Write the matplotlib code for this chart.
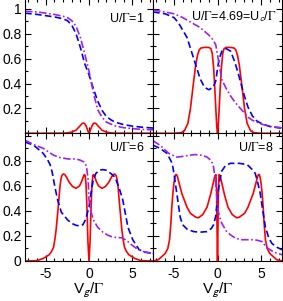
import matplotlib.pyplot as plt
from matplotlib.ticker import MultipleLocator, FixedLocator, FixedFormatter

plt.rcParams['font.family'] = ['Liberation Sans', 'DejaVu Sans']
plt.rcParams['mathtext.fontset'] = 'stix'
plt.rcParams['axes.unicode_minus'] = False

# U/Gamma = 1
v1_red = [-7.4, -3, -2.5, -2, -1.5, -1.1, -0.8, -0.65, -0.5, -0.35, -0.2, -0.08, 0,
          0.08, 0.2, 0.35, 0.5, 0.65, 0.8, 1.1, 1.5, 2, 2.5, 3, 7.4]
red1 = [0, 0.001, 0.004, 0.01, 0.025, 0.055, 0.078, 0.083, 0.078, 0.06, 0.035, 0.01, 0.0,
        0.01, 0.035, 0.06, 0.078, 0.083, 0.078, 0.055, 0.025, 0.01, 0.004, 0.001, 0]
v1 = [-7.4, -6, -5, -4, -3, -2.5, -2, -1.5, -1, -0.5, 0, 0.5, 1, 1.5, 2, 2.5, 3, 4, 5, 6, 7.4]
blue1 = [0.965, 0.955, 0.945, 0.935, 0.92, 0.905, 0.87, 0.80, 0.69, 0.56, 0.47, 0.36, 0.26,
         0.185, 0.135, 0.11, 0.09, 0.07, 0.058, 0.05, 0.042]
purple1 = [0.98, 0.975, 0.965, 0.955, 0.94, 0.93, 0.905, 0.86, 0.77, 0.64, 0.50, 0.33, 0.19,
           0.13, 0.09, 0.075, 0.06, 0.045, 0.038, 0.032, 0.028]

# U/Gamma = 4.69
v2_red = [-7.4, -5, -4.2, -3.8, -3.4, -3.1, -2.8, -2.5, -2.3, -2.1, -1.9, -1.5, -1.0, -0.75,
          -0.6, -0.45, -0.3, -0.18, -0.08, 0, 0.08, 0.18, 0.3, 0.45, 0.6, 0.75, 1.0, 1.5,
          1.9, 2.1, 2.3, 2.5, 2.8, 3.1, 3.4, 3.8, 4.2, 5, 7.4]
red2 = [0, 0.0, 0.005, 0.02, 0.08, 0.2, 0.38, 0.55, 0.625, 0.67, 0.685, 0.69, 0.69, 0.68,
        0.64, 0.53, 0.35, 0.18, 0.05, 0, 0.05, 0.18, 0.35, 0.53, 0.64, 0.68, 0.69, 0.69,
        0.685, 0.67, 0.625, 0.55, 0.38, 0.2, 0.08, 0.02, 0.005, 0.0, 0]
v2 = [-7.4, -6, -5, -4.5, -4, -3.5, -3, -2.5, -2, -1.5, -1, -0.5, -0.2, 0, 0.2, 0.5, 1,
      1.5, 2, 2.5, 3, 3.5, 4, 4.5, 5, 6, 7.4]
blue2 = [0.975, 0.96, 0.93, 0.89, 0.83, 0.77, 0.66, 0.55, 0.44, 0.37, 0.35, 0.37, 0.42,
         0.52, 0.60, 0.66, 0.68, 0.66, 0.57, 0.45, 0.32, 0.21, 0.14, 0.10, 0.08, 0.055, 0.04]
purple2 = [0.99, 0.975, 0.96, 0.945, 0.93, 0.91, 0.89, 0.87, 0.85, 0.82, 0.79, 0.75, 0.71,
           0.63, 0.55, 0.43, 0.36, 0.30, 0.25, 0.21, 0.17, 0.13, 0.105, 0.09, 0.075, 0.055,
           0.045]

# U/Gamma = 6
v3_red = [-7.4, -6, -5.3, -4.6, -4.3, -4.1, -3.95, -3.8, -3.68, -3.56, -3.45, -3.35, -3.25,
          -3.15, -3.05, -2.95, -2.8, -2.6, -2.3, -1.9, -1.5, -1.1, -0.85, -0.7, -0.55,
          -0.45, -0.35, -0.25, -0.12, 0, 0.12, 0.25, 0.35, 0.45, 0.55, 0.7, 0.85, 1.1,
          1.5, 1.9, 2.3, 2.6, 2.8, 2.95, 3.05, 3.15, 3.25, 3.35, 3.45, 3.56, 3.68, 3.8,
          3.95, 4.1, 4.3, 4.6, 5.3, 6, 7.4]
red3 = [0, 0.003, 0.02, 0.05, 0.08, 0.11, 0.17, 0.25, 0.34, 0.43, 0.52, 0.6, 0.65,
        0.68, 0.69, 0.695, 0.69, 0.67, 0.63, 0.595, 0.58, 0.60, 0.635, 0.665, 0.69,
        0.685, 0.62, 0.45, 0.15, 0, 0.15, 0.45, 0.62, 0.685, 0.69, 0.665, 0.635, 0.60,
        0.58, 0.595, 0.63, 0.67, 0.69, 0.695, 0.69, 0.68, 0.65, 0.6, 0.52, 0.43, 0.34,
        0.25, 0.17, 0.11, 0.08, 0.05, 0.02, 0.003, 0]
v3 = [-7.4, -6.4, -5.3, -4.8, -4.5, -4.26, -3.94, -3.6, -3.2, -2.5, -2, -1.5, -1.07, -0.7,
      -0.4, -0.2, 0, 0.2, 0.5, 0.8, 1.2, 1.6, 2, 2.5, 3, 3.5, 3.9, 4.2, 4.5, 5.06, 5.8,
      6.5, 7.4]
blue3 = [0.95, 0.925, 0.86, 0.81, 0.77, 0.71, 0.59, 0.48, 0.39, 0.33, 0.30, 0.285, 0.28,
         0.29, 0.33, 0.38, 0.43, 0.53, 0.65, 0.70, 0.725, 0.73, 0.725, 0.70, 0.67, 0.58,
         0.49, 0.38, 0.27, 0.17, 0.09, 0.07, 0.06]
v3p = [-7.4, -6.4, -5.3, -4.1, -3.3, -2.4, -1.5, -1, -0.57, -0.3, -0.1, 0, 0.2, 0.5, 1,
       1.6, 2.2, 2.8, 3.8, 4.2, 4.5, 5, 5.5, 6.3, 7.4]
purple3 = [0.965, 0.93, 0.90, 0.845, 0.825, 0.815, 0.815, 0.805, 0.79, 0.76, 0.65, 0.49,
           0.40, 0.33, 0.27, 0.23, 0.205, 0.19, 0.185, 0.17, 0.155, 0.125, 0.10, 0.075, 0.06]

# U/Gamma = 8
v4_red = [-7.4, -6.8, -6.4, -6, -5.7, -5.5, -5.35, -5.24, -5.12, -5.0, -4.9, -4.8, -4.7,
          -4.6, -4.4, -4.1, -3.5, -3.1, -2.5, -2.2, -1.7, -1.2, -0.8, -0.5, -0.3, -0.18,
          -0.1, -0.04, 0, 0.04, 0.1, 0.18, 0.3, 0.5, 0.8, 1.2, 1.7, 2.2, 2.5, 3.1, 3.5,
          4.1, 4.4, 4.6, 4.7, 4.8, 4.9, 5.0, 5.12, 5.24, 5.35, 5.5, 5.7, 6, 6.4, 6.8, 7.4]
red4 = [0.0, 0.01, 0.035, 0.06, 0.1, 0.17, 0.3, 0.43, 0.54, 0.62, 0.665, 0.69, 0.69,
        0.675, 0.62, 0.54, 0.43, 0.38, 0.35, 0.345, 0.37, 0.43, 0.53, 0.62, 0.68, 0.69,
        0.55, 0.2, 0, 0.2, 0.55, 0.69, 0.68, 0.62, 0.53, 0.43, 0.37, 0.345, 0.35, 0.38,
        0.43, 0.54, 0.62, 0.675, 0.69, 0.69, 0.665, 0.62, 0.54, 0.43, 0.3, 0.17, 0.1,
        0.06, 0.035, 0.01, 0.0]
v4 = [-7.4, -6.6, -5.8, -5.2, -5.0, -4.67, -4.28, -4.0, -3.5, -2.75, -2, -1.2, -0.7,
      -0.45, -0.2, 0, 0.25, 0.5, 0.9, 1.46, 2.5, 3.4, 4, 4.33, 4.6, 4.9, 5.2, 5.5, 5.9,
      6.25, 6.8, 7.4]
blue4 = [0.925, 0.90, 0.86, 0.78, 0.70, 0.54, 0.35, 0.29, 0.255, 0.235, 0.23, 0.235, 0.26,
         0.29, 0.36, 0.51, 0.64, 0.72, 0.76, 0.78, 0.78, 0.77, 0.73, 0.70, 0.63, 0.54,
         0.40, 0.27, 0.18, 0.14, 0.11, 0.09]
v4p = [-7.4, -6.6, -5.6, -4.7, -4, -3.2, -2.56, -1.8, -1.2, -0.7, -0.45, -0.2, 0, 0.2,
       0.5, 1, 1.46, 2, 2.6, 3.5, 4.1, 4.6, 5.1, 5.5, 5.8, 6.5, 7.4]
purple4 = [0.96, 0.925, 0.86, 0.83, 0.835, 0.845, 0.85, 0.845, 0.83, 0.80, 0.75, 0.62,
           0.43, 0.36, 0.30, 0.24, 0.21, 0.185, 0.17, 0.17, 0.17, 0.165, 0.155, 0.12,
           0.10, 0.07, 0.05]

labels = ['U/$\\Gamma$=1', 'U/$\\Gamma$=4.69=U$_\\mathsf{c}$/$\\Gamma$',
          'U/$\\Gamma$=6', 'U/$\\Gamma$=8']
label_x = [0.935, 0.959, 0.9375, 0.933]
label_y = [0.857, 0.87, 0.89, 0.89]

panels = [
    (v1_red, red1, v1, blue1, v1, purple1),
    (v2_red, red2, v2, blue2, v2, purple2),
    (v3_red, red3, v3, blue3, v3p, purple3),
    (v4_red, red4, v4, blue4, v4p, purple4),
]

fig = plt.figure(figsize=(2.83, 3.01), dpi=100)
lefts = [25 / 283, 153 / 283]
widths = [128 / 283, 129 / 283]
rects = [
    (lefts[0], 0.5571, widths[0], 0.4467),
    (lefts[1], 0.5571, widths[1], 0.4467),
    (lefts[0], 0.1329, widths[0], 0.4243),
    (lefts[1], 0.1329, widths[1], 0.4243),
]

for i, (xr, r, xb, b, xp, p) in enumerate(panels):
    ax = fig.add_axes(rects[i])
    ax.plot(xr, r, color='red', lw=1.2)
    ax.plot(xb, b, color='#0000ff', lw=1.2, dashes=(4, 2))
    ax.plot(xp, p, color='#a020f0', lw=1.2, dashes=(4.5, 1.5, 1, 1.5))
    ax.set_xlim(-7.4, 7.4)
    top = i < 2
    ax.set_ylim(0, 1.08 if top else 1.02)
    ax.xaxis.set_major_locator(MultipleLocator(5))
    ax.xaxis.set_minor_locator(MultipleLocator(1))
    ax.yaxis.set_major_locator(FixedLocator([0, 0.2, 0.4, 0.6, 0.8, 1.0]))
    ax.yaxis.set_minor_locator(MultipleLocator(0.1))
    if top:
        ytl = ['', '0.2', '0.4', '0.6', '0.8', '1']
    else:
        ytl = ['0', '0.2', '0.4', '0.6', '0.8', '']
    ax.yaxis.set_major_formatter(FixedFormatter(ytl))
    ax.tick_params(which='both', direction='in', top=True, right=True,
                   labelsize=10)
    ax.tick_params(which='major', length=4, width=0.8)
    ax.tick_params(which='minor', length=2, width=0.8)
    ax.tick_params(axis='y', pad=2.5)
    ax.tick_params(axis='x', pad=4)
    if i % 2 == 1:
        ax.tick_params(labelleft=False)
    if top:
        ax.tick_params(labelbottom=False)
    else:
        ax.set_xlabel('V$_\\mathsf{g}$/$\\Gamma$', fontsize=11, labelpad=0)
    ax.text(label_x[i], label_y[i], labels[i], transform=ax.transAxes,
            ha='right', va='center', fontsize=9)

fig.savefig('out.png', dpi=100)
